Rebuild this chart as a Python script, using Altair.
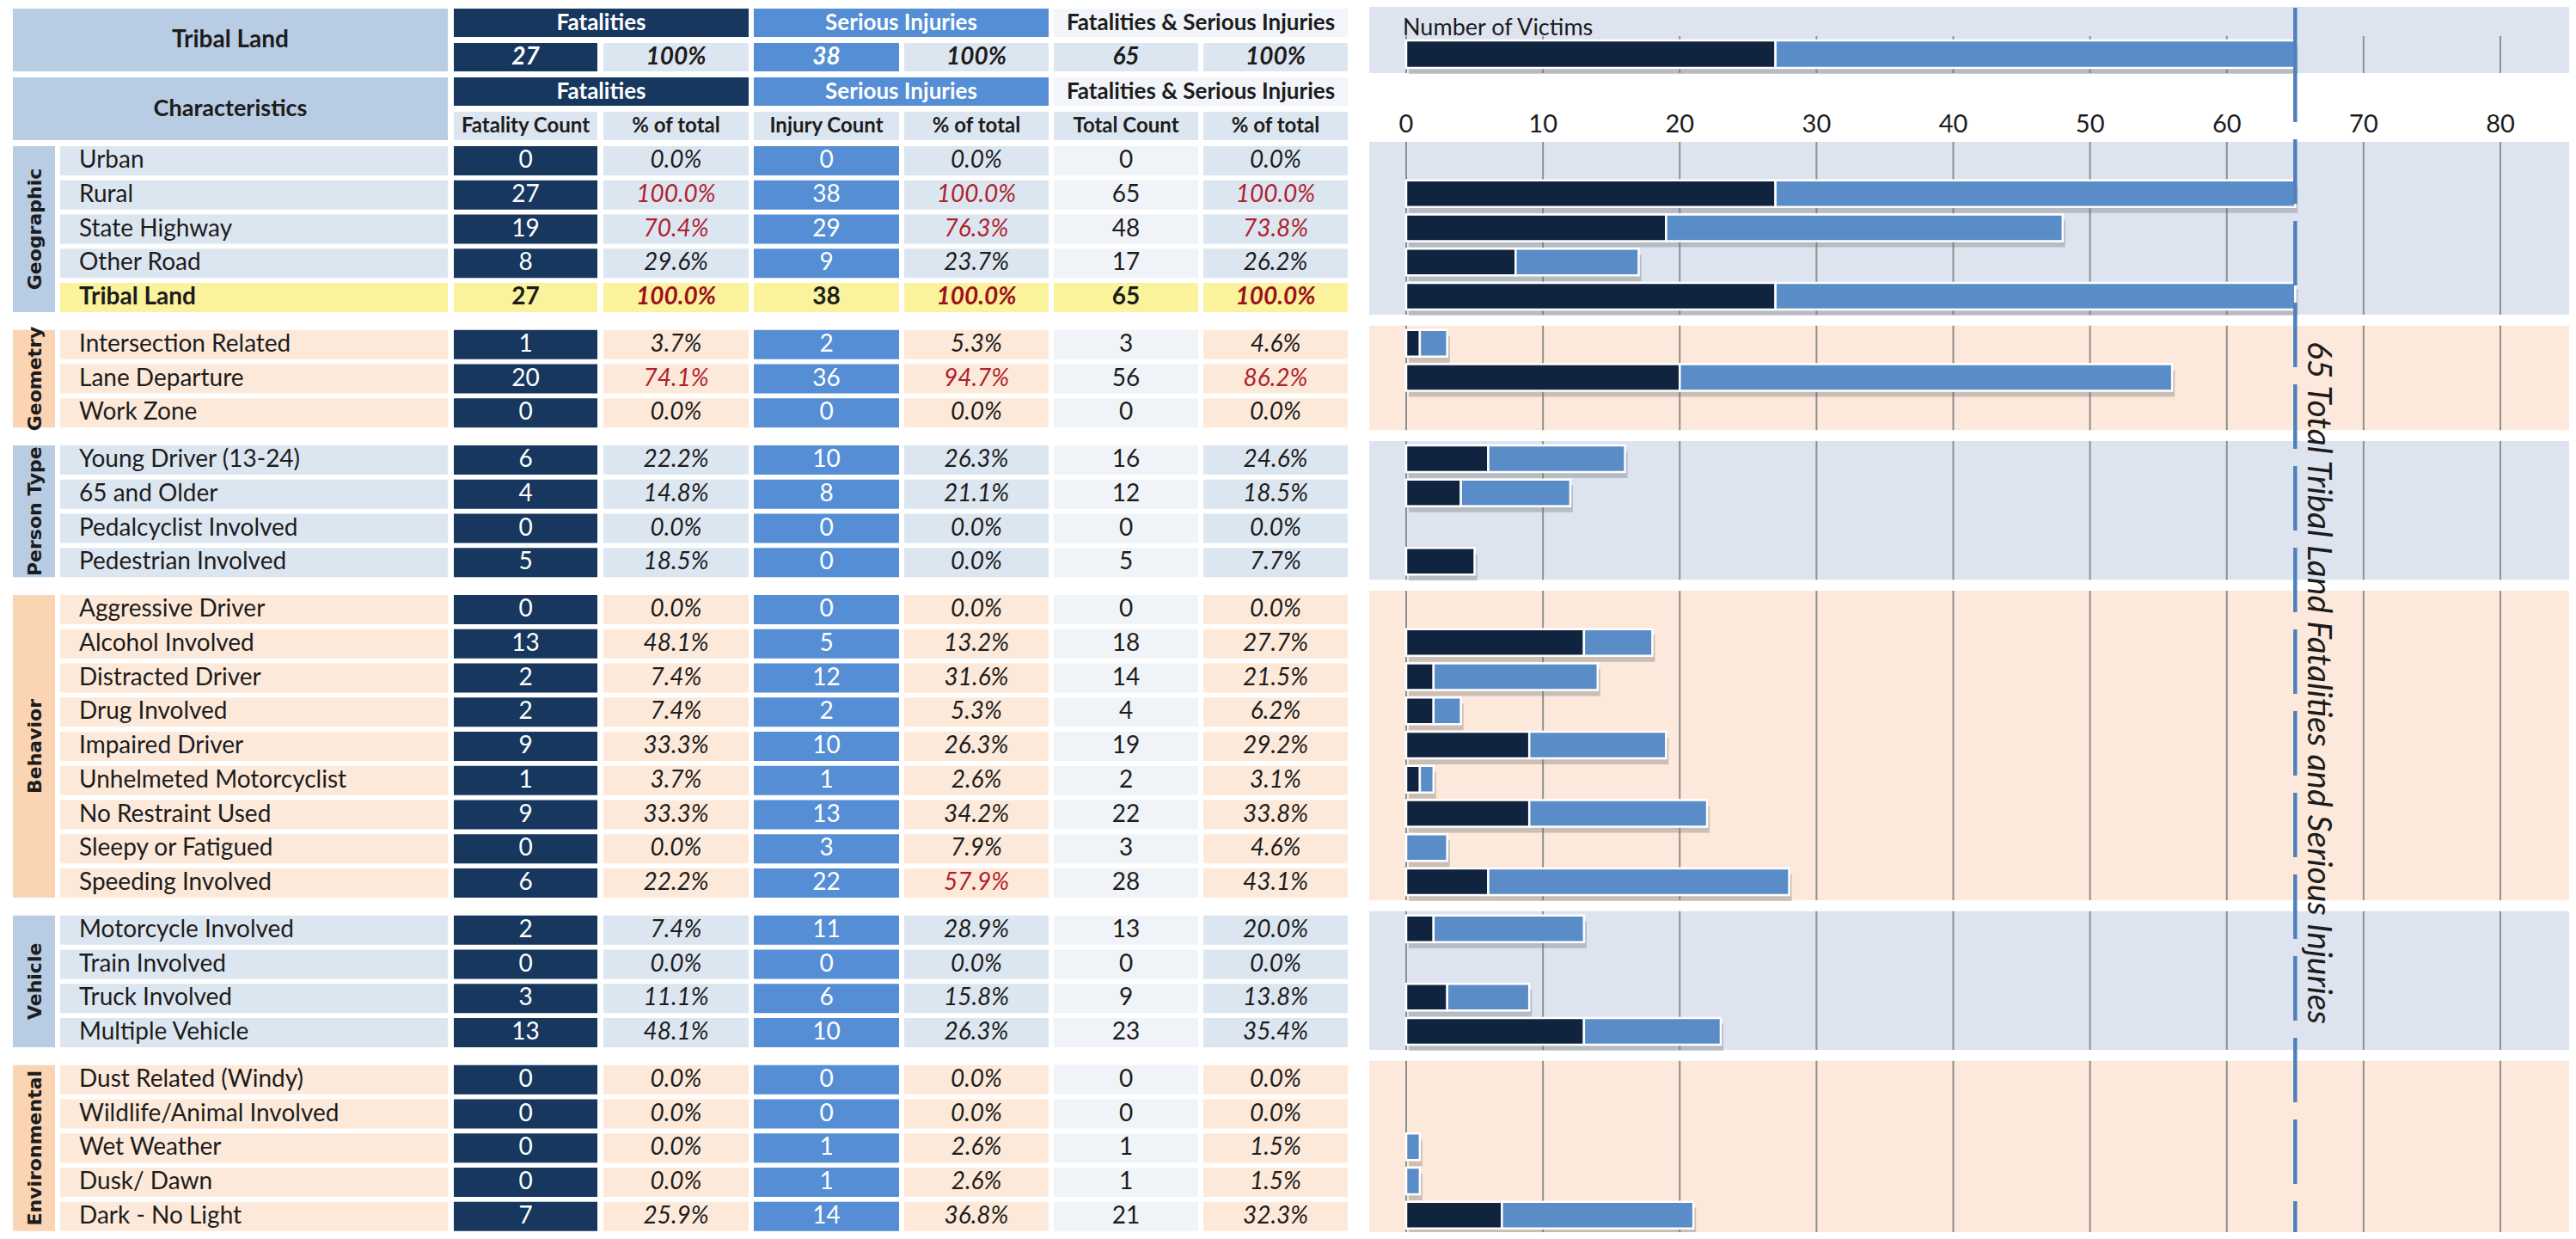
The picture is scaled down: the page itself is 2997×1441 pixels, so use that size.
import altair as alt
import pandas as pd

# ---------------- data ----------------
groups = ["Geographic", "Geometry", "Person Type", "Behavior", "Vehicle", "Environmental"]
group_counts = [5, 3, 4, 9, 4, 5]
group_tone = ["blue", "peach", "blue", "peach", "blue", "peach"]

categories = [
    "Urban", "Rural", "State Highway", "Other Road", "Tribal Land",
    "Intersection Related", "Lane Departure", "Work Zone",
    "Young Driver (13-24)", "65 and Older", "Pedalcyclist Involved", "Pedestrian Involved",
    "Aggressive Driver", "Alcohol Involved", "Distracted Driver", "Drug Involved",
    "Impaired Driver", "Unhelmeted Motorcyclist", "No Restraint Used",
    "Sleepy or Fatigued", "Speeding Involved",
    "Motorcycle Involved", "Train Involved", "Truck Involved", "Multiple Vehicle",
    "Dust Related (Windy)", "Wildlife/Animal Involved", "Wet Weather", "Dusk/ Dawn",
    "Dark - No Light",
]
fatalities = [0, 27, 19, 8, 27, 1, 20, 0, 6, 4, 0, 5, 0, 13, 2, 2, 9, 1, 9, 0, 6,
              2, 0, 3, 13, 0, 0, 0, 0, 7]
fatal_pct = [0.0, 100.0, 70.4, 29.6, 100.0, 3.7, 74.1, 0.0, 22.2, 14.8, 0.0, 18.5,
             0.0, 48.1, 7.4, 7.4, 33.3, 3.7, 33.3, 0.0, 22.2,
             7.4, 0.0, 11.1, 48.1, 0.0, 0.0, 0.0, 0.0, 25.9]
injuries = [0, 38, 29, 9, 38, 2, 36, 0, 10, 8, 0, 0, 0, 5, 12, 2, 10, 1, 13, 3, 22,
            11, 0, 6, 10, 0, 0, 1, 1, 14]
injury_pct = [0.0, 100.0, 76.3, 23.7, 100.0, 5.3, 94.7, 0.0, 26.3, 21.1, 0.0, 0.0,
              0.0, 13.2, 31.6, 5.3, 26.3, 2.6, 34.2, 7.9, 57.9,
              28.9, 0.0, 15.8, 26.3, 0.0, 0.0, 2.6, 2.6, 36.8]
total_count = [0, 65, 48, 17, 65, 3, 56, 0, 16, 12, 0, 5, 0, 18, 14, 4, 19, 2, 22, 3, 28,
               13, 0, 9, 23, 0, 0, 1, 1, 21]
total_pct = [0.0, 100.0, 73.8, 26.2, 100.0, 4.6, 86.2, 0.0, 24.6, 18.5, 0.0, 7.7,
             0.0, 27.7, 21.5, 6.2, 29.2, 3.1, 33.8, 4.6, 43.1,
             20.0, 0.0, 13.8, 35.4, 0.0, 0.0, 1.5, 1.5, 32.3]
highlight_category = "Tribal Land"
total_fatalities = 27
total_injuries = 38
total_all = 65
axis_ticks = [0, 10, 20, 30, 40, 50, 60, 70, 80]

# ---------------- layout (reference pixel frame) ----------------
OFF = 8
W, H = 2981, 1425
COL = {
    "grp": (15, 64), "label": (70, 521),
    "fc": (528, 695), "fp": (702, 871),
    "ic": (877, 1046), "ip": (1052, 1220),
    "tc": (1226, 1394), "tp": (1400, 1568),
}
ROW0, PITCH, RH, GEXTRA = 170, 39.75, 34, 15
PANEL_X = (1593, 2997)
BAR_PX0, BAR_PX80 = 1636, 2909

NAVY = "#17375e"
BLUE = "#558ed5"
ROW_BG = {"blue": "#dce6f1", "peach": "#fde9d9"}
GRP_BG = {"blue": "#b8cce4", "peach": "#fbd4b4"}
PANEL_BG = {"blue": "#dde4f0", "peach": "#fce9db"}
TOT_BG = "#f0f4f8"
HEAD_BG = "#b8cce4"
LIGHT_HEAD = "#dce6f1"
COMB_HEAD = "#f2f5f9"
HILITE = "#faf39c"
BAR_NAVY = "#10243f"
BAR_BLUE = "#5a8dc8"
RED = "#b01e2c"
DARK_RED = "#9c1020"
TXT = "#1c1c1c"
LINE_BLUE = "#4f81bd"
FONT = "Lato, 'Open Sans', sans-serif"
GFONT = "'DejaVu Sans', Verdana, sans-serif"


def c(v):
    return v - OFF


rects, texts, rules, bars_f, bars_i, shadows = [], [], [], [], [], []


def add_text(x, y, t, color=TXT, size=28, weight="normal", style="normal",
             align="center", font=FONT, angle=0):
    texts.append(dict(x=c(x), y=c(y), text=t, color=color, size=size, weight=weight,
                      style=style, align=align, font=font, angle=angle, barx=False))


def add_cell(col, y0, y1, fill, t=None, **kw):
    x0, x1 = COL[col]
    rects.append(dict(x0=c(x0), x1=c(x1), y0=c(y0), y1=c(y1), fill=fill))
    if t is not None:
        add_text((x0 + x1) / 2, (y0 + y1) / 2, t, **kw)


def span(a, b, y0, y1, fill, t=None, **kw):
    x0, x1 = COL[a][0], COL[b][1]
    rects.append(dict(x0=c(x0), x1=c(x1), y0=c(y0), y1=c(y1), fill=fill))
    if t is not None:
        add_text((x0 + x1) / 2, (y0 + y1) / 2, t, **kw)


# ---- header block 1 ----
span("grp", "label", 10, 83, HEAD_BG, "Tribal Land", weight="bold", size=28)
span("fc", "fp", 10, 43, NAVY, "Fatalities", color="white", weight="bold", size=26)
add_cell("fc", 50, 83, NAVY, str(total_fatalities), color="white", weight="bold", style="italic")
add_cell("fp", 50, 83, LIGHT_HEAD, "100%", weight="bold", style="italic")
span("ic", "ip", 10, 43, BLUE, "Serious Injuries", color="white", weight="bold", size=26)
add_cell("ic", 50, 83, BLUE, str(total_injuries), color="white", weight="bold", style="italic")
add_cell("ip", 50, 83, LIGHT_HEAD, "100%", weight="bold", style="italic")
span("tc", "tp", 10, 43, COMB_HEAD, "Fatalities & Serious Injuries", weight="bold", size=26)
add_cell("tc", 50, 83, LIGHT_HEAD, str(total_all), weight="bold", style="italic")
add_cell("tp", 50, 83, LIGHT_HEAD, "100%", weight="bold", style="italic")

# ---- header block 2 ----
span("grp", "label", 90, 163, HEAD_BG, "Characteristics", weight="bold", size=27)
span("fc", "fp", 90, 123, NAVY, "Fatalities", color="white", weight="bold", size=26)
span("ic", "ip", 90, 123, BLUE, "Serious Injuries", color="white", weight="bold", size=26)
span("tc", "tp", 90, 123, COMB_HEAD, "Fatalities & Serious Injuries", weight="bold", size=26)
for col, lab in [("fc", "Fatality Count"), ("fp", "% of total"), ("ic", "Injury Count"),
                 ("ip", "% of total"), ("tc", "Total Count"), ("tp", "% of total")]:
    add_cell(col, 130, 163, LIGHT_HEAD, lab, size=24, weight="bold")

# ---- data rows ----
row_top = []
i = 0
for gi, (g, n, tone) in enumerate(zip(groups, group_counts, group_tone)):
    g_top = ROW0 + PITCH * i + GEXTRA * gi
    for k in range(n):
        top = ROW0 + PITCH * i + GEXTRA * gi
        row_top.append(top)
        y0, y1 = top, top + RH
        hl = categories[i] == highlight_category
        bg = HILITE if hl else ROW_BG[tone]
        w = "bold" if hl else "normal"
        x0, x1 = COL["label"]
        rects.append(dict(x0=c(x0), x1=c(x1), y0=c(y0), y1=c(y1), fill=bg))
        add_text(x0 + 22, (y0 + y1) / 2, categories[i], weight=w, align="left")

        def pct_color(p):
            if hl:
                return DARK_RED
            return RED if p > 50 else TXT

        add_cell("fc", y0, y1, HILITE if hl else NAVY, str(fatalities[i]),
                 color=TXT if hl else "white", weight=w)
        add_cell("fp", y0, y1, bg, f"{fatal_pct[i]:.1f}%", color=pct_color(fatal_pct[i]),
                 weight=w, style="italic")
        add_cell("ic", y0, y1, HILITE if hl else BLUE, str(injuries[i]),
                 color=TXT if hl else "white", weight=w)
        add_cell("ip", y0, y1, bg, f"{injury_pct[i]:.1f}%", color=pct_color(injury_pct[i]),
                 weight=w, style="italic")
        add_cell("tc", y0, y1, HILITE if hl else TOT_BG, str(total_count[i]), weight=w)
        add_cell("tp", y0, y1, bg, f"{total_pct[i]:.1f}%", color=pct_color(total_pct[i]),
                 weight=w, style="italic")

        # bars
        if total_count[i] > 0:
            shadows.append(dict(a=0, b=total_count[i], y0=c(top + 2), y1=c(top + 33)))
        if fatalities[i] > 0:
            bars_f.append(dict(a=0, b=fatalities[i], y0=c(top), y1=c(top + 31)))
        if injuries[i] > 0:
            bars_i.append(dict(a=fatalities[i], b=fatalities[i] + injuries[i],
                               y0=c(top), y1=c(top + 31)))
        i += 1
    g_bot = row_top[-1] + RH
    gx0, gx1 = COL["grp"]
    rects.append(dict(x0=c(gx0), x1=c(gx1), y0=c(g_top), y1=c(g_bot), fill=GRP_BG[tone]))
    add_text((gx0 + gx1) / 2 + 1, (g_top + g_bot) / 2, g, weight="bold", size=22,
             font=GFONT, angle=270)
    # bar panel
    rects.append(dict(x0=c(PANEL_X[0]), x1=c(PANEL_X[1]), y0=c(g_top - 5), y1=c(g_bot + 3),
                      fill=PANEL_BG[tone]))
    for t in axis_ticks:
        rules.append(dict(v=t, y0=c(g_top - 5), y1=c(g_bot + 3)))

# ---- top bar panel ----
rects.append(dict(x0=c(PANEL_X[0]), x1=c(PANEL_X[1]), y0=c(5), y1=c(85), fill=PANEL_BG["blue"]))
for t in axis_ticks:
    rules.append(dict(v=t, y0=c(42), y1=c(85)))
    texts.append(dict(x=t, y=c(145), text=str(t), color=TXT, size=29, weight="normal",
                      style="normal", align="center", font=FONT, angle=0, barx=True))
add_text(1632, 33, "Number of Victims", size=27, align="left")
shadows.append(dict(a=0, b=total_all, y0=c(49), y1=c(81)))
bars_f.append(dict(a=0, b=total_fatalities, y0=c(47), y1=c(79)))
bars_i.append(dict(a=total_fatalities, b=total_fatalities + total_injuries, y0=c(47), y1=c(79)))

# ---------------- charts ----------------
PX = alt.Scale(domain=[0, W], nice=False, zero=False)
PY = alt.Scale(domain=[0, H], reverse=True, nice=False, zero=False)
BX = alt.Scale(domain=[0, 80], range=[c(BAR_PX0), c(BAR_PX80)], nice=False, zero=False)


def px(f):
    return alt.X(f, type="quantitative", scale=PX, axis=None)


def bx(f):
    return alt.X(f, type="quantitative", scale=BX, axis=None)


def py(f):
    return alt.Y(f, type="quantitative", scale=PY, axis=None)


layers = []
layers.append(alt.Chart(pd.DataFrame(rects)).mark_rect().encode(
    x=px("x0"), x2="x1", y=py("y0"), y2="y1", color=alt.Color("fill:N", scale=None)))
layers.append(alt.Chart(pd.DataFrame(rules)).mark_rule(color="#8f8f8f", strokeWidth=2).encode(
    x=bx("v"), y=py("y0"), y2="y1"))
layers.append(alt.Chart(pd.DataFrame(shadows)).mark_rect(
    color="#6f6f6f", opacity=0.35, xOffset=3, x2Offset=3, yOffset=5, y2Offset=5).encode(
    x=bx("a"), x2="b", y=py("y0"), y2="y1"))
layers.append(alt.Chart(pd.DataFrame(bars_f)).mark_rect(
    color=BAR_NAVY, stroke="white", strokeWidth=2.5).encode(
    x=bx("a"), x2="b", y=py("y0"), y2="y1"))
layers.append(alt.Chart(pd.DataFrame(bars_i)).mark_rect(
    color=BAR_BLUE, stroke="white", strokeWidth=2.5).encode(
    x=bx("a"), x2="b", y=py("y0"), y2="y1"))
# reference line at the total: solid across the header panel, dashed over the rows
layers.append(alt.Chart(pd.DataFrame([dict(v=total_all, y0=c(9), y1=c(142))])).mark_rule(
    color=LINE_BLUE, strokeWidth=4.5).encode(x=bx("v"), y=py("y0"), y2="y1"))
layers.append(alt.Chart(pd.DataFrame([dict(v=total_all, y0=c(162), y1=c(1441))])).mark_rule(
    color=LINE_BLUE, strokeWidth=4.5, strokeDash=[75, 20]).encode(
    x=bx("v"), y=py("y0"), y2="y1"))
layers.append(alt.Chart(pd.DataFrame([dict(
    v=total_all, y=c(794),
    text=f"{total_all} Total Tribal Land Fatalities and Serious Injuries")])).mark_text(
    font=FONT, fontStyle="italic", fontSize=39, angle=90, align="center", baseline="middle",
    color=TXT, xOffset=27).encode(x=bx("v"), y=py("y"), text="text:N"))

tdf = pd.DataFrame(texts)
for (barx, weight, style, align, font, angle), sub in tdf.groupby(
        ["barx", "weight", "style", "align", "font", "angle"]):
    layers.append(alt.Chart(sub.reset_index(drop=True)).mark_text(
        font=font, fontWeight=weight, fontStyle=style, align=align, baseline="middle",
        angle=float(angle)).encode(
        x=bx("x") if barx else px("x"), y=py("y"), text="text:N",
        color=alt.Color("color:N", scale=None), size=alt.Size("size:Q", scale=None)))

chart = alt.layer(*layers).resolve_scale(x="independent").properties(
    width=W, height=H, padding=0, autosize=alt.AutoSizeParams(type="none"),
    background="white").configure_view(stroke=None)

chart.save("out.html", embed_options={"renderer": "svg", "actions": False})
